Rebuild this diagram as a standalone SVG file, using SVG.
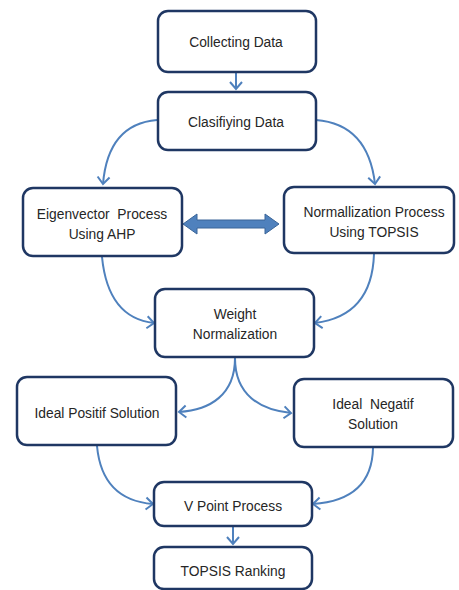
<svg xmlns="http://www.w3.org/2000/svg" width="459" height="590" viewBox="0 0 459 590">
<defs>
<style>
.box{fill:#fff;stroke:#1f3763;stroke-width:2.5}
.t{font-family:"Liberation Sans",Arial,sans-serif;font-size:13.8px;fill:#262626;text-anchor:middle}
.c{fill:none;stroke:#4f81bd;stroke-width:2;marker-end:url(#ah)}
</style>
<marker id="ah" markerUnits="userSpaceOnUse" markerWidth="16" markerHeight="16" refX="0" refY="0" viewBox="-10 -8 12 16" orient="auto">
<path d="M-7,-6 L0,0 L-7,6" fill="none" stroke="#4f81bd" stroke-width="2"/>
</marker>
</defs>
<rect width="459" height="590" fill="#fff"/>
<g id="connectors">
<path class="c" d="M236,73 L236,89"/>
<path class="c" d="M157,120 Q108,124 103,184"/>
<path class="c" d="M316,120 Q368,124 375,184"/>
<polygon points="183,224 197,214 197,220 265,220 265,214 279,224 265,234 265,228 197,228 197,234" fill="#4f81bd" stroke="#3a6598" stroke-width="1"/>
<path class="c" d="M102,257 Q108,318 154,323"/>
<path class="c" d="M374,254 Q372,316 315,323"/>
<path class="c" d="M235,358 C235,395 210,410 179,412"/>
<path class="c" d="M235,358 C235,395 260,410 291,413"/>
<path class="c" d="M97,446 Q102,500 153,504"/>
<path class="c" d="M373,448 Q372,500 313,504"/>
<path class="c" d="M233,527 L233,544"/>
</g>
<g id="n1"><rect class="box" x="158" y="11" width="158" height="61" rx="10"/><text class="t" x="236" y="47">Collecting Data</text></g>
<g id="n2"><rect class="box" x="158" y="92" width="158" height="58" rx="10"/><text class="t" x="236" y="127">Clasifiying Data</text></g>
<g id="n3"><rect class="box" x="23" y="188" width="159" height="68" rx="10"/><text class="t" x="102" y="219" xml:space="preserve">Eigenvector  Process</text><text class="t" x="102" y="239">Using AHP</text></g>
<g id="n4"><rect class="box" x="284" y="187" width="170" height="66" rx="10"/><text class="t" x="374" y="217">Normallization Process</text><text class="t" x="374" y="237">Using TOPSIS</text></g>
<g id="n5"><rect class="box" x="155" y="289" width="159" height="68" rx="10"/><text class="t" x="235" y="319">Weight</text><text class="t" x="235" y="339">Normalization</text></g>
<g id="n6"><rect class="box" x="17" y="377" width="159" height="68" rx="10"/><text class="t" x="97" y="418">Ideal Positif Solution</text></g>
<g id="n7"><rect class="box" x="294" y="379" width="159" height="68" rx="10"/><text class="t" x="373" y="409" xml:space="preserve">Ideal  Negatif</text><text class="t" x="373" y="429">Solution</text></g>
<g id="n8"><rect class="box" x="154" y="482" width="158" height="44" rx="10"/><text class="t" x="233" y="511">V Point Process</text></g>
<g id="n9"><rect class="box" x="154" y="547" width="158" height="42" rx="10"/><text class="t" x="233" y="576">TOPSIS Ranking</text></g>
</svg>
